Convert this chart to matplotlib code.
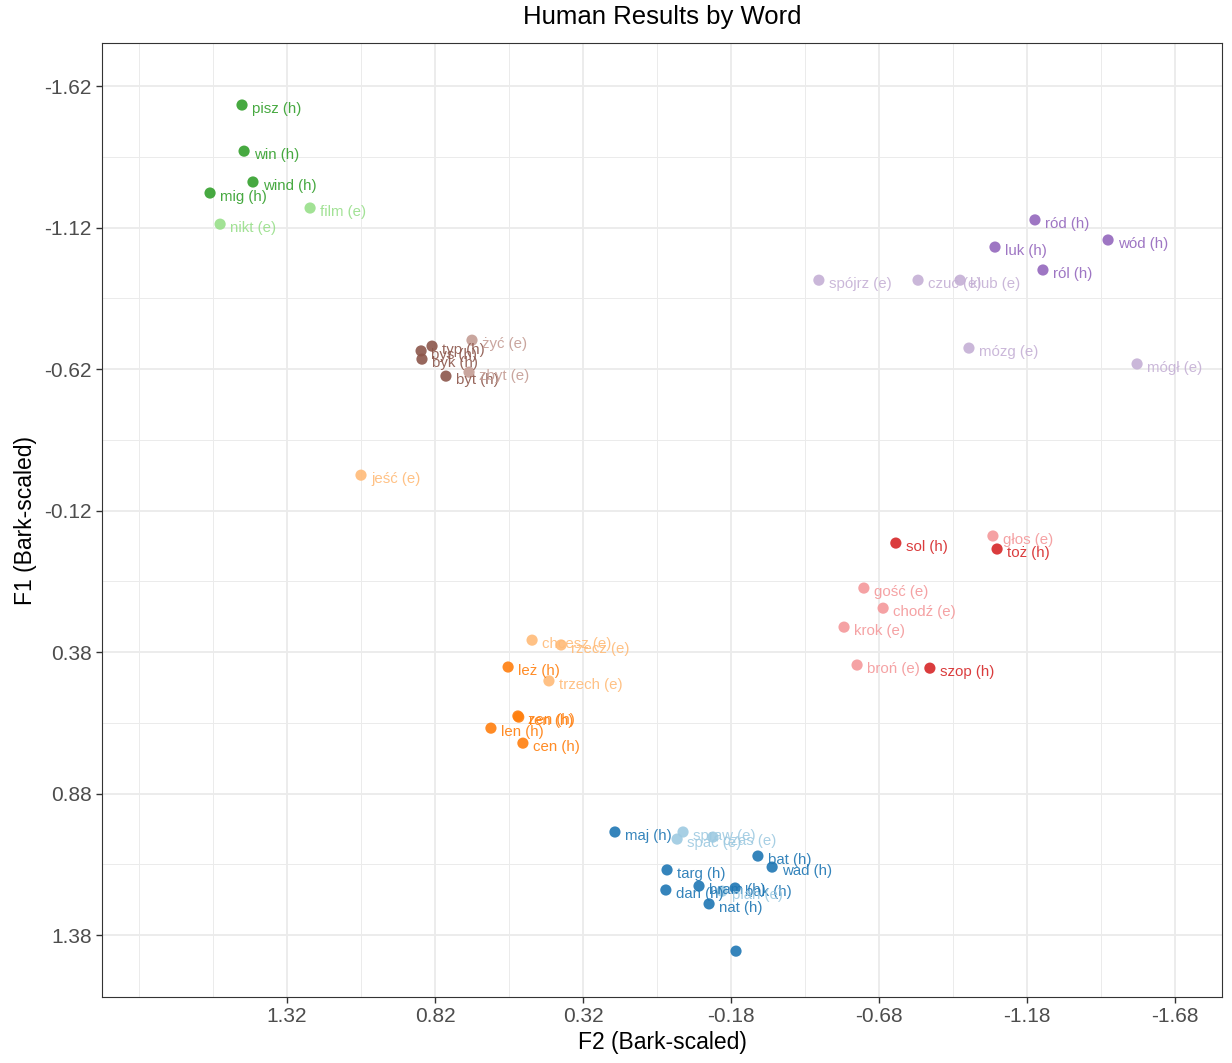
import matplotlib
matplotlib.use('Agg')
import matplotlib.pyplot as plt

# words, their F2 / F1 values (Bark-scaled), vowel group and source (h / e)
words = ['pisz', 'win', 'wind', 'mig', 'film', 'nikt',
         'typ', 'bys', 'byk', 'byt', 'żyć', 'zbyt',
         'jeść', 'chcesz', 'rzecz', 'trzech', 'leż', 'zen', 'ren', 'len', 'cen',
         'maj', 'targ', 'dan', 'bram', 'nat', 'bak', 'bat', 'wad', '',
         'spraw', 'spać', 'czas', 'plan',
         'ród', 'luk', 'ról', 'wód', 'spójrz', 'czuć', 'klub', 'mózg', 'mógł',
         'sol', 'toż', 'szop', 'głos', 'gość', 'chodź', 'krok', 'broń']
kinds = ['h', 'h', 'h', 'h', 'e', 'e',
         'h', 'h', 'h', 'h', 'e', 'e',
         'e', 'e', 'e', 'e', 'h', 'h', 'h', 'h', 'h',
         'h', 'h', 'h', 'h', 'h', 'h', 'h', 'h', 'h',
         'e', 'e', 'e', 'e',
         'h', 'h', 'h', 'h', 'e', 'e', 'e', 'e', 'e',
         'h', 'h', 'h', 'e', 'e', 'e', 'e', 'e']
groups = ['i'] * 6 + ['y'] * 6 + ['e'] * 9 + ['a'] * 13 + ['u'] * 9 + ['o'] * 8
f2 = [1.472, 1.465, 1.435, 1.580, 1.242, 1.546,
      0.830, 0.867, 0.864, 0.783, 0.695, 0.705,
      1.070, 0.492, 0.394, 0.435, 0.573, 0.540, 0.537, 0.631, 0.523,
      0.212, 0.036, 0.040, -0.072, -0.106, -0.194, -0.271, -0.319, -0.197,
      -0.018, 0.002, -0.119, -0.150,
      -1.207, -1.072, -1.234, -1.454, -0.477, -0.812, -0.954, -0.984, -1.552,
      -0.737, -1.079, -0.852, -1.065, -0.629, -0.694, -0.562, -0.606]
f1 = [-1.553, -1.390, -1.281, -1.242, -1.189, -1.132,
      -0.701, -0.684, -0.655, -0.595, -0.722, -0.609,
      -0.245, 0.338, 0.355, 0.482, 0.433, 0.606, 0.610, 0.649, 0.702,
      1.016, 1.150, 1.221, 1.207, 1.270, 1.214, 1.101, 1.140, 1.437,
      1.016, 1.041, 1.034, 1.225,
      -1.147, -1.051, -0.970, -1.076, -0.934, -0.934, -0.934, -0.694, -0.638,
      -0.005, 0.016, 0.437, -0.030, 0.154, 0.225, 0.292, 0.426]

dark = {'i': '#33a02c', 'y': '#8c564b', 'e': '#ff7f0e', 'a': '#1f77b4',
        'u': '#9467bd', 'o': '#d62728'}
light = {'i': '#98df8a', 'y': '#c49c94', 'e': '#ffbb78', 'a': '#9ecae1',
         'u': '#c5b0d5', 'o': '#f4989a'}

x_ticks = [1.32, 0.82, 0.32, -0.18, -0.68, -1.18, -1.68]
y_ticks = [-1.62, -1.12, -0.62, -0.12, 0.38, 0.88, 1.38]

plt.rcParams['font.family'] = ['Liberation Sans', 'DejaVu Sans']

fig = plt.figure(figsize=(12.32, 10.63), dpi=100)
ax = fig.add_axes([0.0828, 0.0621, 0.9091, 0.8974])

for w, x, y, g, k in zip(words, f2, f1, groups, kinds):
    c = dark[g] if k == 'h' else light[g]
    ax.scatter(x, y, s=65, color=c, alpha=0.9, edgecolors='none', zorder=3)
    if w:
        ax.annotate('%s (%s)' % (w, k), (x, y), xytext=(7.2, -2.9),
                    textcoords='offset points', ha='left', va='center',
                    fontsize=10.8, color=c, alpha=0.9, zorder=4)

ax.set_xticks(x_ticks)
ax.set_xticklabels(['%.2f' % v for v in x_ticks])
ax.set_yticks(y_ticks)
ax.set_yticklabels(['%.2f' % v for v in y_ticks])
ax.set_xticks([1.82, 1.57, 1.07, 0.57, 0.07, -0.43, -0.93, -1.43], minor=True)
ax.set_yticks([-1.37, -0.87, -0.37, 0.13, 0.63, 1.13], minor=True)
ax.set_xlim(1.945, -1.839)
ax.set_ylim(1.599, -1.772)
ax.grid(which='major', color='#ebebeb', linewidth=1.3, zorder=0)
ax.grid(which='minor', color='#ebebeb', linewidth=0.7, zorder=0)
ax.set_axisbelow(True)
ax.tick_params(which='major', labelsize=15, labelcolor='#4d4d4d',
               color='#333333', length=4, width=1)
ax.tick_params(which='minor', length=0)
for s in ax.spines.values():
    s.set_color('#333333')
    s.set_linewidth(0.8)

ax.set_xlabel('F2 (Bark-scaled)', fontsize=16.5, labelpad=3)
ax.set_ylabel('F1 (Bark-scaled)', fontsize=16.5, labelpad=5)
# title is centred over the panel, not the whole figure
fig.text(0.5374, 0.984, 'Human Results by Word', fontsize=18.5,
         ha='center', va='center')

fig.savefig('out.png', dpi=100)
